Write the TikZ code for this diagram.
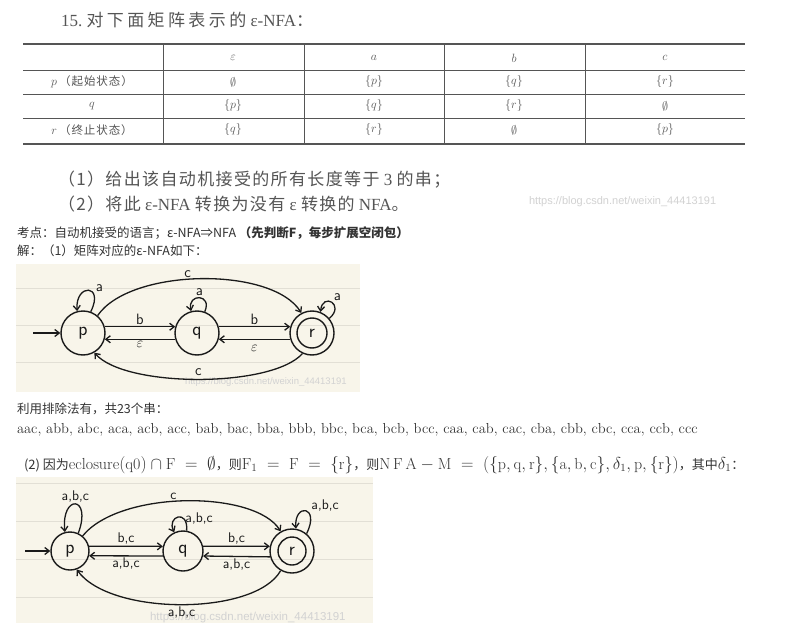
\documentclass[tikz,border=0pt]{standalone}
\usepackage{fontspec}
\usepackage{amssymb}
\newfontfamily\tnr{Liberation Serif}
\newfontfamily\cjk{Noto Sans CJK SC}
\newfontfamily\cjkw{Noto Sans CJK SC}[LetterSpace=8]
\newfontfamily\cjkt{Noto Sans CJK SC}[LetterSpace=20]
\newfontfamily\wm{Liberation Sans}
\usetikzlibrary{arrows.meta}
\definecolor{scan}{HTML}{555555}
\definecolor{cream}{HTML}{F8F5EA}
\definecolor{rulec}{HTML}{E2DFD5}
\definecolor{ink}{HTML}{1A1A1A}
\definecolor{wmark}{HTML}{D2D2D2}
\definecolor{bodyc}{HTML}{333333}
\begin{document}
\begin{tikzpicture}[x=1pt,y=-1pt,
  txt/.style={anchor=west,inner sep=0,outer sep=0},
  cell/.style={inner sep=0,text=scan,font=\fontsize{13}{14}\selectfont},
  st/.style={circle,draw=ink,line width=1.4pt,inner sep=0,font=\sffamily\fontsize{19}{19}\selectfont,text=ink},
  hl/.style={font=\sffamily\fontsize{15}{15}\selectfont,text=ink,inner sep=1.5pt},
  hs/.style={font=\sffamily\fontsize{14}{14}\selectfont,text=ink,inner sep=1.5pt},
  edge/.style={draw=ink,line width=1.3pt,-{Straight Barb[length=4.5pt,width=7pt]}},
  tline/.style={draw=scan,line width=0.6pt},
  tthick/.style={draw=scan,line width=1.4pt}]
\useasboundingbox (0,0) rectangle (789,631);
\fill[white] (0,0) rectangle (789,631);

% ---------- textbook part ----------
\node[txt,text=scan,font=\tnr\fontsize{17}{17}\selectfont] (title) at (61,20) {15.\ {\cjkt 对下面矩阵表示的}\ ε-NFA{\cjk ：}};

\draw[tthick] (23,44) -- (745,44);
\draw[tline] (23,70) -- (745,70);
\draw[tline] (23,94) -- (745,94);
\draw[tline] (23,118) -- (745,118);
\draw[tthick] (23,144) -- (745,144);
\foreach \xx in {163,304,444,585} \draw[tline] (\xx,44) -- (\xx,144);

\node[cell] (hE) at (233,58) {$\varepsilon$};
\node[cell] (hA) at (374,58) {$a$};
\node[cell] (hB) at (514,58) {$b$};
\node[cell] (hC) at (665,58) {$c$};
\node[cell] (rP) at (92,82) {$p$\,{\cjkw\fontsize{11.5}{12}\selectfont （起始状态）}};
\node[cell] (rQ) at (92,106) {$q$};
\node[cell] (rR) at (92,130) {$r$\,{\cjkw\fontsize{11.5}{12}\selectfont （终止状态）}};
\node[cell] (pE) at (233,82) {$\emptyset$};
\node[cell] (pA) at (374,82) {$\{p\}$};
\node[cell] (pB) at (514,82) {$\{q\}$};
\node[cell] (pC) at (665,82) {$\{r\}$};
\node[cell] (qE) at (233,106) {$\{p\}$};
\node[cell] (qA) at (374,106) {$\{q\}$};
\node[cell] (qB) at (514,106) {$\{r\}$};
\node[cell] (qC) at (665,106) {$\emptyset$};
\node[cell] (xE) at (233,130) {$\{q\}$};
\node[cell] (xA) at (374,130) {$\{r\}$};
\node[cell] (xB) at (514,130) {$\emptyset$};
\node[cell] (xC) at (665,130) {$\{p\}$};

\node[txt,text=scan,font=\tnr\fontsize{17}{17}\selectfont] (ask1) at (58,180) {{\cjkw （1）给出该自动机接受的所有长度等于} 3 {\cjkw 的串；}};
\node[txt,text=scan,font=\tnr\fontsize{17}{17}\selectfont] (ask2) at (58,204) {{\cjkw （2）将此} ε-NFA {\cjkw 转换为没有} ε {\cjkw 转换的} NFA{\cjk 。}};
\node[txt,text=wmark,font=\wm\fontsize{11}{11}\selectfont] (wm0) at (529,202) {https://blog.csdn.net/weixin\_44413191};

% ---------- solution text ----------
\node[txt,text=bodyc,font=\cjk\fontsize{12.5}{13}\selectfont] (kd) at (17,233) {考点：自动机接受的语言；ε-NFA⇒NFA \textbf{（先判断F，每步扩展空闭包）}};
\node[txt,text=bodyc,font=\cjk\fontsize{12.5}{13}\selectfont] (jie) at (17,251) {解：（1）矩阵对应的ε-NFA如下：};

% ---------- diagram 1 ----------
\fill[cream] (16,264) rectangle (360,392);
\foreach \yy in {288,325,362} \draw[rulec,line width=0.7pt] (16,\yy) -- (360,\yy);
\node[txt,text=wmark,font=\wm\fontsize{9.5}{10}\selectfont] (wm1) at (185,382) {https://blog.csdn.net/weixin\_44413191};

\node[st,minimum size=44pt] (p1) at (83,333) {p};
\node[st,minimum size=44pt] (q1) at (197,333) {q};
\node[st,minimum size=44pt] (r1) at (312,333) {};
\node[st,minimum size=30pt] (r1in) at (312,333) {r};
\coordinate (s1) at (33,333);
\draw[edge] (s1) -- (p1);
\draw[edge] (p1.16) -- node[hl,above] (lb1) {b} (q1.164);
\draw[edge] (q1.196) -- node[hl,below] (le1) {$\varepsilon$} (p1.344);
\draw[edge] (q1.16) -- node[hl,above] (lb2) {b} (r1.164);
\draw[edge] (r1.196) -- node[hl,below=4pt] (le2) {$\varepsilon$} (q1.344);
\draw[edge] (p1.50) .. controls (130,268) and (272,266) .. node[hl,pos=.45,above] (lc1) {c} (r1.118);
\draw[edge] (r1.245) .. controls (272,388) and (125,388) .. node[hl,pos=.5,above=1pt] (lc2) {c} (p1.300);
\draw[edge] (p1.70) .. controls +(14,-28) and +(-2,-28) .. node[hl,pos=.3,anchor=south west] (la1) {a} (p1.105);
\draw[edge] (q1.70) .. controls +(8,-18) and +(-4,-18) .. node[hl,pos=.5,above] (la2) {a} (q1.105);
\draw[edge] (r1.40) .. controls +(16,-14) and +(2,-20) .. node[hl,pos=.5,anchor=south west] (la3) {a} (r1.68);

% ---------- list of strings ----------
\node[txt,text=bodyc,font=\cjk\fontsize{12.5}{13}\selectfont] (lst) at (17,409) {利用排除法有，共23个串：};
\node[txt,text=bodyc,font=\fontsize{14.5}{15}\selectfont] (strs) at (17,430) {aac, abb, abc, aca, acb, acc, bab, bac, bba, bbb, bbc, bca, bcb, bcc, caa, cab, cac, cba, cbb, cbc, cca, ccb, ccc};
\node[txt,text=bodyc,font=\fontsize{16}{16}\selectfont] (sol2) at (24,465) {{\cjk\fontsize{13}{13}\selectfont (2) 因为}$\mathrm{eclosure(q0)}\cap\mathrm{F}\;=\;\emptyset${\cjk\fontsize{13}{13}\selectfont ，则}$\mathrm{F_1}\;=\;\mathrm{F}\;=\;\{\mathrm{r}\}${\cjk\fontsize{13}{13}\selectfont ，则}$\mathrm{N\,F\,A}-\mathrm{M}\;=\;(\{\mathrm{p,q,r}\},\{\mathrm{a,b,c}\},\delta_1,\mathrm{p},\{\mathrm{r}\})${\cjk\fontsize{13}{13}\selectfont ，其中}$\delta_1${\cjk\fontsize{13}{13}\selectfont ：}};

% ---------- diagram 2 ----------
\fill[cream] (16,477) rectangle (373,623);
\foreach \yy in {483,521,559,597} \draw[rulec,line width=0.7pt] (16,\yy) -- (373,\yy);
\node[txt,text=wmark,font=\wm\fontsize{11.5}{12}\selectfont] (wm2) at (150,618) {https://blog.csdn.net/weixin\_44413191};

\node[st,minimum size=38pt] (p2) at (70,551) {p};
\node[st,minimum size=40pt] (q2) at (183,551) {q};
\node[st,minimum size=44pt] (r2) at (292,551) {};
\node[st,minimum size=28pt] (r2in) at (292,551) {r};
\coordinate (s2) at (25,551);
\draw[edge] (s2) -- (p2);
\draw[edge] (p2.14) -- node[hs,above] (m1) {b,c} (q2.167);
\draw[edge] (q2.194) -- node[hs,below] (m2) {a,b,c} (p2.346);
\draw[edge] (q2.13) -- node[hs,above] (m3) {b,c} (r2.168);
\draw[edge] (r2.195) -- node[hs,below] (m4) {a,b,c} (q2.346);
\draw[edge] (p2.50) .. controls (120,490) and (255,490) .. node[hs,pos=.45,above] (m5) {c} (r2.120);
\draw[edge] (r2.240) .. controls (255,616) and (110,616) .. node[hs,pos=.5,below] (m6) {a,b,c} (p2.290);
\draw[edge] (p2.65) .. controls +(14,-38) and +(-4,-38) .. node[hs,pos=.5,above] (m7) {a,b,c} (p2.105);
\draw[edge] (q2.80) .. controls +(2,-22) and +(-8,-16) .. node[hs,pos=.3,anchor=west] (m8) {a,b,c} (q2.115);
\draw[edge] (r2.50) .. controls +(14,-28) and +(-2,-26) .. node[hs,pos=.35,anchor=south west] (m9) {a,b,c} (r2.80);
\end{tikzpicture}
\end{document}
